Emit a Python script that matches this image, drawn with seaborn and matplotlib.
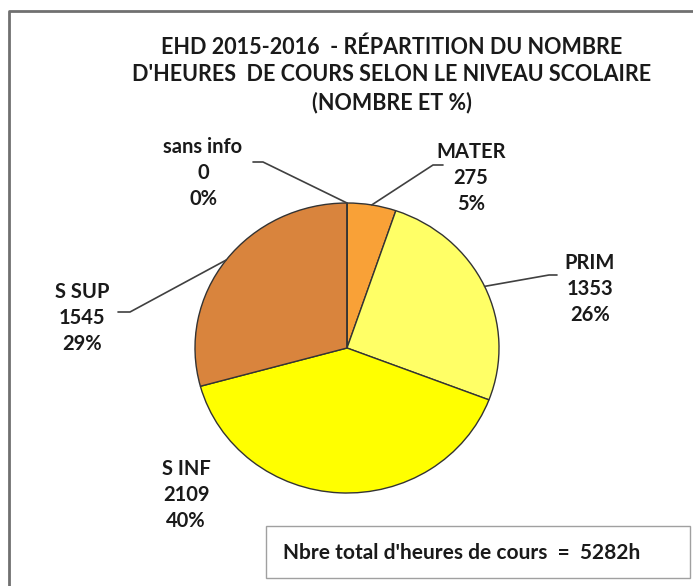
import numpy as np
import matplotlib
matplotlib.use("Agg")
import matplotlib.pyplot as plt
import seaborn as sns
from matplotlib.lines import Line2D
from matplotlib.patches import Rectangle

# data
niveaux = ["MATER", "PRIM", "S INF", "S SUP", "sans info"]
heures = [275, 1353, 2109, 1545, 0]
couleurs = ["#F9A137", "#FFFF66", "#FFFF00", "#D9843D", "#BFBFBF"]
titre = ("EHD 2015-2016  - RÉPARTITION DU NOMBRE\n"
         "D'HEURES  DE COURS SELON LE NIVEAU SCOLAIRE\n"
         "(NOMBRE ET %)")
total_txt = "Nbre total d'heures de cours  =  5282h"

sns.set_theme(style="white")
plt.rcParams["font.family"] = ["Lato", "DejaVu Sans"]

W, H = 693, 586
fig = plt.figure(figsize=(W / 100, H / 100), dpi=100)
fig.patch.set_facecolor("white")

# pie placement in pixels (center, radii)
cx, cy, rx, ry = 347, 348, 152, 145
ax = fig.add_axes([(cx - rx) / W, (H - cy - ry) / H, 2 * rx / W, 2 * ry / H])
wedges, _ = ax.pie(heures, colors=couleurs, startangle=90, counterclock=False,
                   radius=1, wedgeprops=dict(edgecolor="#333333", linewidth=1.0))
ax.set_aspect("auto")
ax.set_xlim(-1, 1)
ax.set_ylim(-1, 1)
ax.axis("off")


def px(x, y):
    # pixel coords (top-left origin) -> figure fraction
    return x / W, (H - y) / H


total = sum(heures)
# label centres and leader elbows/ends (pixels)
label_pos = {
    "MATER": (471, 178),
    "PRIM": (590, 289),
    "S INF": (186, 495),
    "S SUP": (82, 318),
    "sans info": (203, 173),
}
elbows = {
    "MATER": [(433, 165), (443, 165)],
    "PRIM": [(549, 275), (557, 275)],
    "S SUP": [(130, 312), (118, 312)],
    "sans info": [(263, 162), (253, 162)],
}

for w, name, val in zip(wedges, niveaux, heures):
    pct = round(100 * val / total)
    tx, ty = px(*label_pos[name])
    fig.text(tx, ty, f"{name}\n{val}\n{pct}%", ha="center", va="center",
             fontsize=14.5, fontweight="bold", color="#1a1a1a", linespacing=1.38)
    if name in elbows:
        ang = np.deg2rad((w.theta1 + w.theta2) / 2)
        sx, sy = cx + rx * np.cos(ang), cy - ry * np.sin(ang)
        pts = [(sx, sy)] + elbows[name]
        xs = [p[0] / W for p in pts]
        ys = [(H - p[1]) / H for p in pts]
        fig.add_artist(Line2D(xs, ys, color="#404040", lw=1.2))

# title
fig.text(392 / W, 1 - 75 / H, titre, ha="center", va="center", fontsize=15.5,
         fontweight="bold", color="#1a1a1a", linespacing=1.38)

# total box
fig.add_artist(Rectangle(px(266, 578), 424 / W, 52 / H, transform=fig.transFigure,
                         facecolor="white", edgecolor="#a0a0a0", lw=1.0))
fig.text(283 / W, 1 - 553 / H, total_txt, ha="left", va="center", fontsize=15,
         fontweight="bold", color="#1a1a1a")

# outer frame (left and top)
fig.add_artist(Line2D([9 / W, 9 / W, 1], [0, 1 - 11 / H, 1 - 11 / H],
                      color="#707070", lw=2))

fig.savefig("out.png", dpi=100)
